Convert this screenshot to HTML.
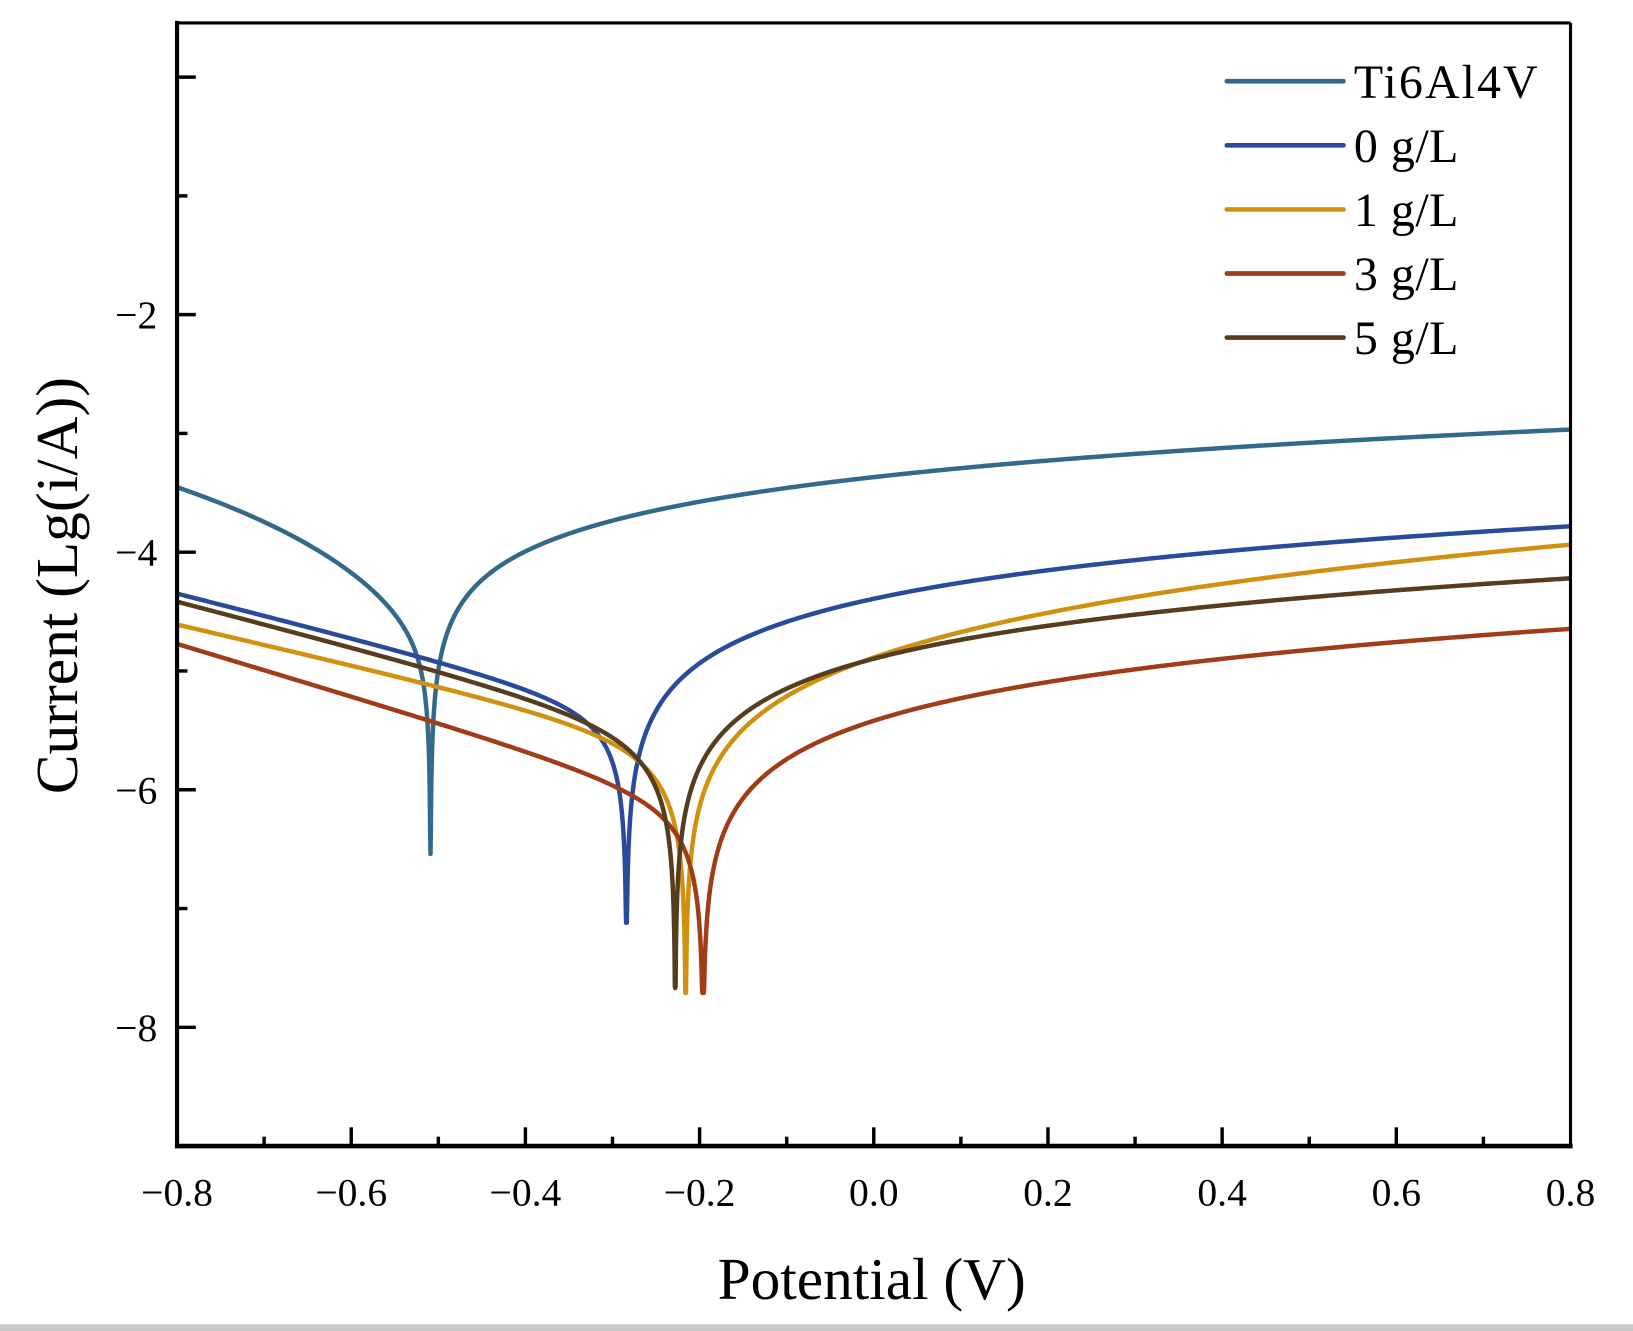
<!DOCTYPE html>
<html><head><meta charset="utf-8"><style>
html,body{margin:0;padding:0;background:#fff;}
svg{display:block;}
text{font-family:"Liberation Serif","Times New Roman",serif;fill:#000;}
</style></head><body>
<svg id="s" width="1633" height="1331" viewBox="0 0 1568 1277.5" preserveAspectRatio="none" xmlns="http://www.w3.org/2000/svg">
<defs><clipPath id="c"><rect x="170" y="22" width="1338" height="1078"/></clipPath></defs>
<rect x="0" y="0" width="1568" height="1277.5" fill="#fff"/>
<g id="curves" clip-path="url(#c)" fill="none" stroke-width="4.3" stroke-linejoin="round"></g>
<g stroke="#000" fill="none">
<line x1="170" y1="22" x2="1508" y2="22" stroke-width="3"/>
<line x1="1508" y1="22" x2="1508" y2="1100" stroke-width="3"/>
<line x1="170" y1="20" x2="170" y2="1102" stroke-width="4"/>
<line x1="168" y1="1100" x2="1510" y2="1100" stroke-width="4.5"/>
</g>
<g id="ticks" stroke="#000" stroke-width="3.3"></g>
<g id="labels" font-size="38"></g>
<text x="837" y="1247" font-size="57" text-anchor="middle">Potential (V)</text>
<text transform="translate(74,562) rotate(-90)" font-size="57" text-anchor="middle">Current (Lg(i/A))</text>
<g id="legend"></g>
<rect x="0" y="1271" width="1568" height="6.5" fill="#c8c8c8"/>
</svg>
<script>
const NS="http://www.w3.org/2000/svg";
function X(v){return 170+(v+0.8)*836.25;}
function Y(l){return 302-( l+2)*114;}
function el(t,a,p,txt){const e=document.createElementNS(NS,t);for(const k in a)e.setAttribute(k,a[k]);if(txt!==undefined)e.textContent=txt;p.appendChild(e);return e;}
const tk=document.getElementById('ticks'),lb=document.getElementById('labels');
for(let i=0;i<=16;i++){const v=-0.8+i*0.1;const x=X(v);const maj=i%2==0;
 if(i>0&&i<16)el('line',{x1:x,y1:1100,x2:x,y2:maj?1082:1091},tk);
 if(maj){const s=(v<-0.001?'\u2212':'')+Math.abs(v).toFixed(1);el('text',{x:x,y:1157,'text-anchor':'middle'},lb,s);}}
for(let l=0;l>=-8;l--){const y=Y(l);const maj=l%2==0;
 el('line',{x1:170,y1:y,x2:maj?188:180,y2:y},tk);
 if(maj&&l<0)el('text',{x:151,y:y+13,'text-anchor':'end'},lb,'\u2212'+Math.abs(l));}
const series=[
 {n:'Ti6Al4V',c:'#336a8c',E:-0.509,c0:-4.79,pc:2.26,qc:0.1,bc:0,p:1.0,q:0.02,min:-6.54},
 {n:'0 g/L',c:'#2a4a9c',E:-0.284,c0:-5.3,bc:1.85,p:1.12,q:0.05,min:-7.12},
 {n:'1 g/L',c:'#d09010',E:-0.216,c0:-5.6,bc:1.7,p:1.76,q:0.13,min:-7.71},
 {n:'3 g/L',c:'#a03c18',E:-0.196,c0:-6.1,bc:2.2,p:1.23,q:0.07,min:-7.71},
 {n:'5 g/L',c:'#553d1e',E:-0.228,c0:-5.5,bc:1.9,p:1.17,q:0.09,min:-7.67}];
const cg=document.getElementById('curves');
function L(s,v){const x=v-s.E;
 let lc=s.qc?s.c0-Math.sign(x)*s.pc*Math.log10(1+Math.abs(x)/s.qc):s.c0-s.bc*x;
 let la=s.c0+Math.sign(x)*s.p*Math.log10(1+Math.abs(x)/s.q);
 const i=Math.abs(Math.pow(10,la)-Math.pow(10,lc));
 let r=i>0?Math.log10(i):s.min; return Math.max(r,s.min);}
series.forEach(s=>{let vs=[];for(let v=-0.82;v<=0.82;v+=0.004)vs.push(v);
 for(let d=-0.03;d<=0.03;d+=0.0004)vs.push(s.E+d);vs.push(s.E);vs.sort((a,b)=>a-b);
 let pts=vs.map(v=>{const l=(Math.abs(v-s.E)<1e-9)?s.min:L(s,v);return X(v).toFixed(2)+','+Y(l).toFixed(2);});
 el('polyline',{points:pts.join(' '),stroke:s.c},cg);});
const lg=document.getElementById('legend');
series.forEach((s,i)=>{const y=78+i*61.5;
 el('line',{x1:1178,y1:y,x2:1290,y2:y,stroke:s.c,'stroke-width':4.5,'stroke-linecap':'round'},lg);
 el('text',{x:1300,y:y+16,'font-size':46,'letter-spacing':i==0?'2':'0.5'},lg,s.n);});
</script>
</body></html>
